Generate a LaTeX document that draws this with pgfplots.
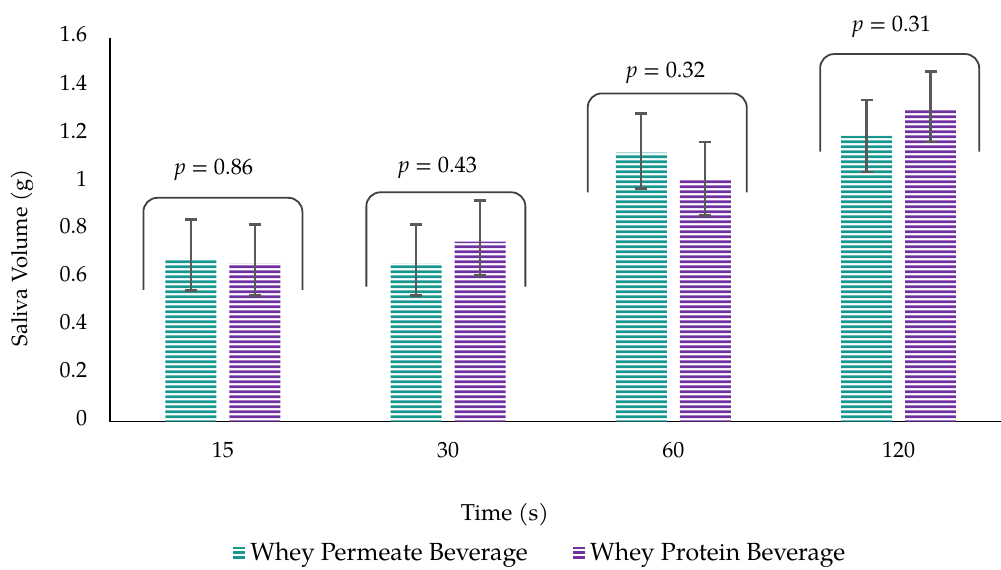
\documentclass[border=0pt]{standalone}
\usepackage{fontspec}
\setmainfont{TeX Gyre Pagella}
\usepackage{pgfplots}
\pgfplotsset{compat=1.18}
\usetikzlibrary{patterns}
\pgfdeclarepatternformonly{hstripes}{\pgfqpoint{0pt}{0pt}}{\pgfqpoint{300pt}{2.6pt}}{\pgfqpoint{300pt}{2.6pt}}{%
  \pgfpathrectangle{\pgfqpoint{0pt}{0.55pt}}{\pgfqpoint{300pt}{1.55pt}}\pgfusepath{fill}}
\definecolor{tealc}{RGB}{24,150,144}
\definecolor{purc}{RGB}{112,48,160}
\definecolor{errc}{RGB}{89,89,89}
\definecolor{brc}{RGB}{64,64,64}
\begin{document}
\begin{tikzpicture}
\begin{axis}[
  scale only axis, width=445.35pt, height=192pt,
  xmin=-0.5, xmax=3.455, ymin=0, ymax=1.6,
  ybar, bar width=0.226,
  axis x line*=bottom, axis y line*=left,
  axis line style={line width=0.9pt, -},
  xtick={0,1,2,3}, xticklabels={15,30,60,120},
  ytick={0,0.2,0.4,0.6,0.8,1,1.2,1.4,1.6},
  yticklabels={0,0.2,0.4,0.6,0.8,1,1.2,1.4,1.6},
  major tick length=0pt,
  tick label style={font=\fontsize{11}{13}\selectfont},
  /pgf/number format/assume math mode=true,
  yticklabel style={xshift=-8pt, yshift=1.5pt},
  xticklabel style={yshift=-7pt},
  clip=false,
  xlabel={Time (s)},
  xlabel style={at={(axis description cs:0.443,0)}, anchor=center, yshift=-46.75pt, font=\fontsize{11.5}{13}\selectfont},
  ylabel={Saliva Volume (g)},
  ylabel style={at={(axis description cs:-0.0988,0.426)}, anchor=center, font=\fontsize{11}{13}\selectfont},
  legend columns=2,
  legend style={at={(axis description cs:0.483,0)}, yshift=-65.5pt, anchor=center, draw=none, fill=none,
    font=\fontsize{12.4}{14}\selectfont, /tikz/every even column/.append style={column sep=20pt}},
]
\addplot[draw=none, pattern=hstripes, pattern color=tealc, bar shift=-0.142,
  legend image code/.code={\draw[tealc, line width=1.2pt] (0pt,-2.4pt) -- (6pt,-2.4pt) (0pt,0pt) -- (6pt,0pt) (0pt,2.4pt) -- (6pt,2.4pt);},
  error bars/.cd, y dir=both, y explicit,
  error bar style={draw=errc, line width=1.1pt},
  error mark options={rotate=90, mark size=3pt, draw=errc, line width=1.4pt}]
  coordinates {
    (0,0.68) += (0,0.162) -= (0,0.133)
    (1,0.66) += (0,0.16) -= (0,0.135)
    (2,1.12) += (0,0.165) -= (0,0.15)
    (3,1.19) += (0,0.15) -= (0,0.15)
  };
\addlegendentry{Whey Permeate Beverage}
\addplot[draw=none, pattern=hstripes, pattern color=purc, bar shift=0.142,
  legend image code/.code={\draw[purc, line width=1.2pt] (0pt,-2.4pt) -- (6pt,-2.4pt) (0pt,0pt) -- (6pt,0pt) (0pt,2.4pt) -- (6pt,2.4pt);},
  error bars/.cd, y dir=both, y explicit,
  error bar style={draw=errc, line width=1.1pt},
  error mark options={rotate=90, mark size=3pt, draw=errc, line width=1.4pt}]
  coordinates {
    (0,0.66) += (0,0.16) -= (0,0.136)
    (1,0.75) += (0,0.17) -= (0,0.14)
    (2,1.01) += (0,0.155) -= (0,0.15)
    (3,1.30) += (0,0.16) -= (0,0.135)
  };
\addlegendentry{Whey Protein Beverage}
% brackets
\draw[brc, line width=0.9pt, rounded corners=7pt] (axis cs:-0.353,0.548) -- (axis cs:-0.353,0.932) -- (axis cs:0.353,0.932) -- (axis cs:0.353,0.548);
\draw[brc, line width=0.9pt, rounded corners=7pt] (axis cs:0.637,0.562) -- (axis cs:0.637,0.955) -- (axis cs:1.343,0.955) -- (axis cs:1.343,0.562);
\draw[brc, line width=0.9pt, rounded corners=7pt] (axis cs:1.62,0.955) -- (axis cs:1.62,1.367) -- (axis cs:2.326,1.367) -- (axis cs:2.326,0.955);
\draw[brc, line width=0.9pt, rounded corners=7pt] (axis cs:2.652,1.124) -- (axis cs:2.652,1.531) -- (axis cs:3.358,1.531) -- (axis cs:3.358,1.124);
\node[font=\fontsize{11.2}{13}\selectfont] at (axis cs:-0.04,1.048) {\textit{p} = 0.86};
\node[font=\fontsize{11.2}{13}\selectfont] at (axis cs:0.954,1.056) {\textit{p} = 0.43};
\node[font=\fontsize{11.2}{13}\selectfont] at (axis cs:1.966,1.453) {\textit{p} = 0.32};
\node[font=\fontsize{11.2}{13}\selectfont] at (axis cs:2.97,1.645) {\textit{p} = 0.31};
\coordinate (sw) at (rel axis cs:0,0);
\coordinate (ne) at (rel axis cs:1,1);
\end{axis}
\pgfresetboundingbox
\path ([shift={(-55.15pt,-73.75pt)}]sw) rectangle ([shift={(0pt,18.75pt)}]ne);
\end{tikzpicture}
\end{document}
